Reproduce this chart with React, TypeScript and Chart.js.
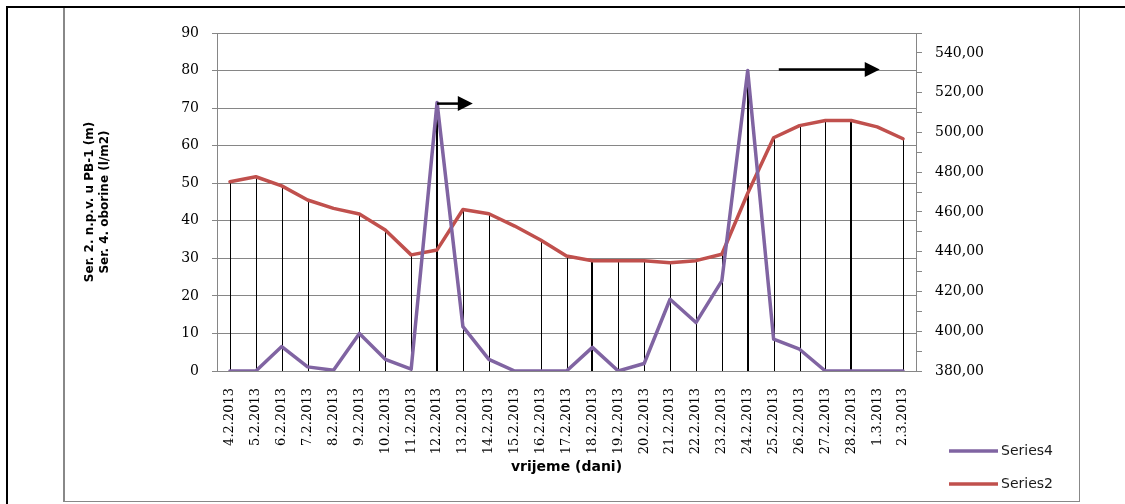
import React, { useEffect, useRef } from 'react';
import { Chart, registerables } from 'chart.js';

Chart.register(...registerables);

// ---- data ----
const dates = [
  '4.2.2013', '5.2.2013', '6.2.2013', '7.2.2013', '8.2.2013', '9.2.2013', '10.2.2013',
  '11.2.2013', '12.2.2013', '13.2.2013', '14.2.2013', '15.2.2013', '16.2.2013', '17.2.2013',
  '18.2.2013', '19.2.2013', '20.2.2013', '21.2.2013', '22.2.2013', '23.2.2013', '24.2.2013',
  '25.2.2013', '26.2.2013', '27.2.2013', '28.2.2013', '1.3.2013', '2.3.2013',
];

// Series4: oborine (l/m2), left axis
const series4 = [
  0, 0, 6.5, 1.1, 0.2, 10, 3.1, 0.5, 71.5, 11.8, 3.1, 0, 0, 0,
  6.3, 0, 2.0, 19.1, 12.9, 24.0, 80, 8.5, 5.8, 0, 0, 0, 0,
];

// Series2: n.p.v. u PB-1 (m), right axis
const series2 = [
  475.2, 477.7, 473.1, 466, 461.8, 459, 450.9, 438.4, 440.9, 461.2, 459.1, 452.9, 445.9, 437.8,
  435.5, 435.5, 435.5, 434.5, 435.5, 438.7, 469.4, 497.3, 503.4, 506, 506, 502.8, 496.8,
];

const leftMin = 0;
const leftMax = 90;
const leftStep = 10;
const rightMin = 380;
const rightMax = 550;
const rightStep = 10;
const rightLabelStep = 20;

const yTitle = ['Ser. 2. n.p.v. u PB-1 (m)', 'Ser. 4. oborine (l/m2)'];
const xTitle = 'vrijeme (dani)';
const legendNames = ['Series4', 'Series2'];

// annotation arrows (category index, left-axis value)
const arrowFrom = [8, 21.2];
const arrowTo = [9.38, 25.1];
const arrowLevel = [71.2, 80.3];

const hiddenDrops = [4, 11, 25];
const heavyDrops = [8, 14, 20, 24];

const PURPLE = '#8064A2';
const RED = '#C0504D';
const GRAY = '#868686';

const decor = {
  id: 'decor',
  beforeDatasetsDraw(chart: any) {
    const { ctx, chartArea, scales } = chart;
    const x = scales.x;
    const yl = scales.yLeft;
    const yr = scales.yRight;
    ctx.save();
    ctx.strokeStyle = '#000';
    dates.forEach((_, i) => {
      if (hiddenDrops.includes(i)) return;
      const px = x.getPixelForValue(i);
      const top = Math.min(yl.getPixelForValue(series4[i]), yr.getPixelForValue(series2[i]));
      const w = heavyDrops.includes(i) ? 2 : 1;
      ctx.lineWidth = w;
      const xx = w === 1 ? Math.round(px) + 0.5 : Math.round(px);
      ctx.beginPath();
      ctx.moveTo(xx, top);
      ctx.lineTo(xx, chartArea.bottom);
      ctx.stroke();
    });
    ctx.restore();
  },
  afterDraw(chart: any) {
    const { ctx, scales } = chart;
    const x = scales.x;
    const yl = scales.yLeft;
    ctx.save();
    // arrows
    ctx.strokeStyle = '#000';
    ctx.fillStyle = '#000';
    for (let k = 0; k < arrowFrom.length; k++) {
      const x1 = x.getPixelForValue(arrowFrom[k]);
      const x2 = x.getPixelForValue(arrowTo[k]);
      const y = yl.getPixelForValue(arrowLevel[k]);
      ctx.lineWidth = 2.5;
      ctx.beginPath();
      ctx.moveTo(x1, y);
      ctx.lineTo(x2 - 14, y);
      ctx.stroke();
      ctx.beginPath();
      ctx.moveTo(x2, y);
      ctx.lineTo(x2 - 15, y - 7.5);
      ctx.lineTo(x2 - 15, y + 7.5);
      ctx.closePath();
      ctx.fill();
    }
    // legend
    const colors = [PURPLE, RED];
    const ly = [451, 484];
    ctx.font = '14px "DejaVu Sans"';
    ctx.textBaseline = 'middle';
    ctx.textAlign = 'left';
    for (let k = 0; k < 2; k++) {
      ctx.strokeStyle = colors[k];
      ctx.lineWidth = 3.5;
      ctx.beginPath();
      ctx.moveTo(949, ly[k]);
      ctx.lineTo(998, ly[k]);
      ctx.stroke();
      ctx.fillStyle = '#1a1a1a';
      ctx.fillText(legendNames[k], 1001, ly[k]);
    }
    // frame
    ctx.fillStyle = '#000';
    ctx.fillRect(6, 6, 1119, 2);
    ctx.fillRect(6, 6, 2, 498);
    ctx.fillStyle = '#888';
    ctx.fillRect(63, 8, 2, 494);
    ctx.fillRect(1079, 8, 1, 494);
    ctx.fillRect(63, 501, 1017, 1);
    ctx.restore();
  },
};

export default function App() {
  const ref = useRef<HTMLCanvasElement | null>(null);

  useEffect(() => {
    if (!ref.current) return;
    const chart = new Chart(ref.current, {
      type: 'line',
      data: {
        labels: dates,
        datasets: [
          {
            label: legendNames[0],
            data: series4,
            yAxisID: 'yLeft',
            borderColor: PURPLE,
            backgroundColor: PURPLE,
            borderWidth: 3.5,
            borderJoinStyle: 'round',
            borderCapStyle: 'round',
            pointRadius: 0,
            tension: 0,
          },
          {
            label: legendNames[1],
            data: series2,
            yAxisID: 'yRight',
            borderColor: RED,
            backgroundColor: RED,
            borderWidth: 3.5,
            borderJoinStyle: 'round',
            borderCapStyle: 'round',
            pointRadius: 0,
            tension: 0,
          },
        ],
      },
      options: {
        responsive: false,
        animation: false,
        devicePixelRatio: 1,
        layout: { padding: { left: 64, top: 33, right: 0, bottom: 0 } },
        plugins: {
          legend: { display: false },
          tooltip: { enabled: false },
        },
        scales: {
          x: {
            type: 'category',
            offset: true,
            grid: { display: false },
            border: { display: true, color: GRAY, width: 1 },
            ticks: {
              autoSkip: false,
              minRotation: 90,
              maxRotation: 90,
              padding: 9,
              color: '#000',
              font: { family: '"DejaVu Serif"', size: 13 },
            },
            title: {
              display: true,
              text: xTitle,
              color: '#000',
              font: { family: '"DejaVu Sans"', size: 14, weight: 'bold' },
              padding: { top: 0, bottom: 28.6 },
            },
            afterFit(scale: any) {
              scale.height = 133;
            },
          },
          yLeft: {
            position: 'left',
            min: leftMin,
            max: leftMax,
            ticks: {
              stepSize: leftStep,
              padding: 13,
              color: '#000',
              font: { family: '"DejaVu Serif"', size: 14 },
            },
            grid: { color: GRAY, lineWidth: 1, tickLength: 5 },
            border: { display: true, color: GRAY, width: 1 },
            title: {
              display: true,
              text: yTitle,
              color: '#000',
              font: { family: '"DejaVu Sans"', size: 12, weight: 'bold', lineHeight: 1.2 },
              padding: { top: 18.8, bottom: 0 },
            },
            afterFit(scale: any) {
              scale.width = 153;
            },
          },
          yRight: {
            position: 'right',
            min: rightMin,
            max: rightMax,
            ticks: {
              stepSize: rightStep,
              autoSkip: false,
              padding: 13,
              color: '#000',
              font: { family: '"DejaVu Serif"', size: 14 },
              callback: (v: any) =>
                (Number(v) - rightMin) % rightLabelStep === 0
                  ? Number(v).toFixed(2).replace('.', ',')
                  : '',
            },
            grid: { drawOnChartArea: false, color: GRAY, tickLength: 6 },
            border: { display: true, color: GRAY, width: 1 },
            afterFit(scale: any) {
              scale.width = 209;
            },
          },
        },
      },
      plugins: [decor],
    } as any);
    return () => chart.destroy();
  }, []);

  return (
    <div style={{ position: 'absolute', left: 0, top: 0, width: 1125, height: 504, background: '#fff' }}>
      <canvas ref={ref} width={1125} height={504} />
    </div>
  );
}
